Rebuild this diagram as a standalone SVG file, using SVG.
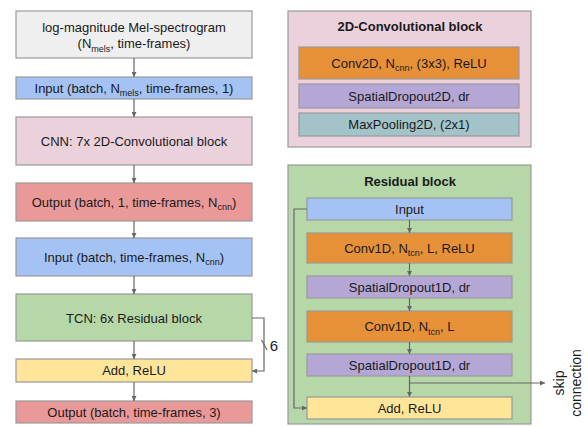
<svg xmlns="http://www.w3.org/2000/svg" width="588" height="427" viewBox="0 0 588 427">
  <defs>
    <marker id="arr" viewBox="0 0 10 10" refX="10" refY="5" markerWidth="5" markerHeight="5" orient="auto" markerUnits="userSpaceOnUse">
      <path d="M0,0 L10,5 L0,10 z" fill="#666"/>
    </marker>
  </defs>
  <style>
    .box { stroke: #999; stroke-width: 1.2; }
    .frame { stroke: #999; stroke-width: 1.2; }
    text { font-family: "Liberation Sans", Arial, sans-serif; font-size: 13px; fill: #1a1a1a; text-anchor: middle; }
    .title { font-weight: bold; }
    .sub { font-size: 9px; }
    .wire { fill: none; stroke: #666; stroke-width: 1.2; }
    .grey { fill: #efefef; }
    .blue { fill: #a4c2f4; }
    .pink { fill: #ead1dc; }
    .red { fill: #ea9999; }
    .green { fill: #b6d7a8; }
    .yellow { fill: #ffe599; }
    .orange { fill: #e69138; }
    .purple { fill: #b4a7d6; }
    .teal { fill: #a2c4c9; }
  </style>

  <!-- main pipeline -->
  <g id="spectrogram">
    <rect class="box grey" x="16" y="11" width="236" height="47"/>
    <text x="134" y="31.5">log-magnitude Mel-spectrogram</text>
    <text x="134" y="48">(N<tspan class="sub" dy="3.5">mels</tspan><tspan dy="-3.5">, time-frames)</tspan></text>
  </g>
  <g id="input2d">
    <rect class="box blue" x="16" y="77" width="236" height="22"/>
    <text x="134" y="92.5">Input (batch, N<tspan class="sub" dy="3.5">mels</tspan><tspan dy="-3.5">, time-frames, 1)</tspan></text>
  </g>
  <g id="cnn">
    <rect class="box pink" x="16" y="117" width="236" height="48"/>
    <text x="134" y="145.5">CNN: 7x 2D-Convolutional block</text>
  </g>
  <g id="cnn-output">
    <rect class="box red" x="16" y="183" width="236" height="38"/>
    <text x="134" y="206.5">Output (batch, 1, time-frames, N<tspan class="sub" dy="3.5">cnn</tspan><tspan dy="-3.5">)</tspan></text>
  </g>
  <g id="input1d">
    <rect class="box blue" x="16" y="238" width="236" height="38"/>
    <text x="134" y="261.5">Input (batch, time-frames, N<tspan class="sub" dy="3.5">cnn</tspan><tspan dy="-3.5">)</tspan></text>
  </g>
  <g id="tcn">
    <rect class="box green" x="16" y="294" width="236" height="47"/>
    <text x="134" y="322.5">TCN: 6x Residual block</text>
  </g>
  <g id="add-main">
    <rect class="box yellow" x="16" y="359" width="236" height="23"/>
    <text x="134" y="375">Add, ReLU</text>
  </g>
  <g id="output">
    <rect class="box red" x="16" y="401" width="236" height="22"/>
    <text x="134" y="416.5">Output (batch, time-frames, 3)</text>
  </g>

  <!-- 2D convolutional block detail -->
  <g id="conv-block">
    <rect class="frame pink" x="288" y="11" width="243" height="136"/>
    <text class="title" x="410" y="30.5">2D-Convolutional block</text>
  </g>
  <g id="conv2d">
    <rect class="box orange" x="299" y="47" width="220" height="32"/>
    <text x="409" y="67.5">Conv2D, N<tspan class="sub" dy="3.5">cnn</tspan><tspan dy="-3.5">, (3x3), ReLU</tspan></text>
  </g>
  <g id="dropout2d">
    <rect class="box purple" x="299" y="84" width="220" height="24"/>
    <text x="409" y="100.5">SpatialDropout2D, dr</text>
  </g>
  <g id="maxpool">
    <rect class="box teal" x="299" y="113" width="220" height="23"/>
    <text x="409" y="129">MaxPooling2D, (2x1)</text>
  </g>

  <!-- residual block detail -->
  <g id="res-block">
    <rect class="frame green" x="288" y="165" width="243" height="259"/>
    <text class="title" x="410" y="185.5">Residual block</text>
  </g>
  <g id="res-input">
    <rect class="box blue" x="307" y="198" width="205" height="22"/>
    <text x="409.5" y="213.5">Input</text>
  </g>
  <g id="conv1d-a">
    <rect class="box orange" x="307" y="233" width="205" height="30"/>
    <text x="409.5" y="252.5">Conv1D, N<tspan class="sub" dy="3.5">tcn</tspan><tspan dy="-3.5">, L, ReLU</tspan></text>
  </g>
  <g id="dropout1d-a">
    <rect class="box purple" x="307" y="276" width="205" height="22"/>
    <text x="409.5" y="291.5">SpatialDropout1D, dr</text>
  </g>
  <g id="conv1d-b">
    <rect class="box orange" x="307" y="311" width="205" height="31"/>
    <text x="409.5" y="331">Conv1D, N<tspan class="sub" dy="3.5">tcn</tspan><tspan dy="-3.5">, L</tspan></text>
  </g>
  <g id="dropout1d-b">
    <rect class="box purple" x="307" y="354" width="205" height="22"/>
    <text x="409.5" y="369.5">SpatialDropout1D, dr</text>
  </g>
  <g id="res-add">
    <rect class="box yellow" x="307" y="397" width="205" height="22"/>
    <text x="409.5" y="412.5">Add, ReLU</text>
  </g>

  <!-- connectors -->
  <g id="connectors">
    <line class="wire" x1="134" y1="58" x2="134" y2="77" marker-end="url(#arr)"/>
    <line class="wire" x1="134" y1="99" x2="134" y2="117" marker-end="url(#arr)"/>
    <line class="wire" x1="134" y1="165" x2="134" y2="183" marker-end="url(#arr)"/>
    <line class="wire" x1="134" y1="221" x2="134" y2="238" marker-end="url(#arr)"/>
    <line class="wire" x1="134" y1="276" x2="134" y2="294" marker-end="url(#arr)"/>
    <line class="wire" x1="134" y1="341" x2="134" y2="359" marker-end="url(#arr)"/>
    <line class="wire" x1="134" y1="382" x2="134" y2="401" marker-end="url(#arr)"/>
    <!-- repeated skip sum around the TCN -->
    <polyline class="wire" points="252,318 264,318 264,371 252,371" marker-end="url(#arr)"/>
    <line class="wire" x1="261.5" y1="340" x2="267" y2="350"/>
    <text x="274" y="350.5" style="font-size:15px">6</text>

    <!-- residual block flow -->
    <line class="wire" x1="409.5" y1="220" x2="409.5" y2="233" marker-end="url(#arr)"/>
    <line class="wire" x1="409.5" y1="263" x2="409.5" y2="276" marker-end="url(#arr)"/>
    <line class="wire" x1="409.5" y1="298" x2="409.5" y2="311" marker-end="url(#arr)"/>
    <line class="wire" x1="409.5" y1="342" x2="409.5" y2="354" marker-end="url(#arr)"/>
    <line class="wire" x1="409.5" y1="376" x2="409.5" y2="397" marker-end="url(#arr)"/>
    <polyline class="wire" points="307,209 294,209 294,408 307,408" marker-end="url(#arr)"/>
    <polyline class="wire" points="409.5,383 545,383" marker-end="url(#arr)"/>
    <text transform="translate(564,383) rotate(-90)" style="font-size:14px">skip</text>
    <text transform="translate(581,383) rotate(-90)" style="font-size:14px">connection</text>
  </g>
</svg>
